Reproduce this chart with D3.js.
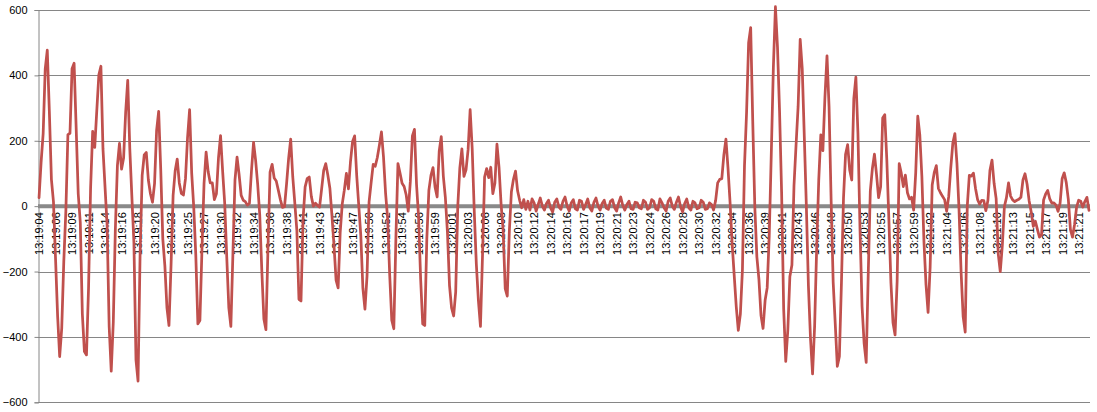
<!DOCTYPE html>
<html>
<head>
<meta charset="utf-8">
<script src="https://cdn.jsdelivr.net/npm/d3@7"></script>
<style>
  html, body { margin: 0; padding: 0; background: #ffffff; }
  svg { display: block; }
  text { font-family: "Liberation Sans", Arial, sans-serif; font-size: 11px; fill: #000; }
</style>
</head>
<body>
<svg id="chart" width="1097" height="412"></svg>
<script>
// ---- data ----
const timeLabels = [
  "13:19:04","13:19:06","13:19:09","13:19:11","13:19:14","13:19:16","13:19:18","13:19:20","13:19:23","13:19:25",
  "13:19:27","13:19:30","13:19:32","13:19:34","13:19:36","13:19:38","13:19:41","13:19:43","13:19:45","13:19:47",
  "13:19:50","13:19:52","13:19:54","13:19:56","13:19:59","13:20:01","13:20:03","13:20:06","13:20:08","13:20:10",
  "13:20:12","13:20:14","13:20:16","13:20:17","13:20:19","13:20:21","13:20:23","13:20:24","13:20:26","13:20:28",
  "13:20:30","13:20:32","13:20:34","13:20:36","13:20:39","13:20:41","13:20:43","13:20:46","13:20:48","13:20:50",
  "13:20:53","13:20:55","13:20:57","13:20:59","13:21:02","13:21:04","13:21:06","13:21:08","13:21:10","13:21:13",
  "13:21:15","13:21:17","13:21:19","13:21:21"
];
const samplesPerLabel = 8;
const yTicks = [-600, -400, -200, 0, 200, 400, 600];

// first oscillating phase (13:19:04 - 13:20:10)
const valuesA = [
  26, 134, 222, 420, 477, 290, 82, 13,
  -160, -335, -460, -374, -170, -16, 219, 223,
  420, 437, 240, 38, -50, -330, -445, -455,
  -251, 56, 229, 180, 292, 402, 428, 175,
  58, -58, -368, -505, -355, -70, 125, 192,
  113, 147, 288, 385, 176, 30, -112, -470,
  -535, -144, 94, 157, 164, 80, 38, 12,
  69, 232, 290, 113, -100, -182, -310, -365,
  -180, 33, 108, 144, 71, 39, 34, 84,
  210, 295, 102, -3, -150, -360, -350, -130,
  70, 165, 105, 71, 71, 20, 38, 148,
  216, 108, 10, -155, -310, -368, -144, 80,
  150, 96, 33, 18, 14, 3, 8, 109,
  195, 140, 67, -27, -197, -345, -378, -125,
  104, 128, 86, 77, 49, 20, -4, -2,
  68, 146, 205, 90, 9, -75, -285, -290,
  -40, 59, 84, 89, 30, 0, 9, 2,
  -3, 53, 109, 130, 95, 55, -29, -120,
  -226, -250, -80, 7, 49, 100, 53, 137,
  198, 215, 94, 2, -91, -251, -315, -215,
  13, 72, 128, 122, 149, 186, 227, 150,
  40, -38, -210, -349, -375, -100, 130, 101,
  70, 60, 34, -15, 75, 215, 235, 67,
  -33, -223, -360, -365, -100, 49, 94, 118,
  58, 28, 168, 213, 92, 25, -80, -243,
  -311, -336, -262, 0, 117, 175, 91, 111,
  172, 295, 175, -17, -177, -288, -368, -150,
  89, 115, 87, 119, 38, 70, 190, 119,
  6, -75, -252, -275, -77, 44, 82, 107,
  47, 18, -5, 20, -10, 15, -12, 22
];
// quiet phase (13:20:12 - 13:20:30)
const valuesB = [
  10, -15, 5, 25, 0, -12, 8, 18,
  -5, -18, 12, 22, -2, -10, 15, 28,
  0, -15, 10, 20, -8, -12, 18, 15,
  -10, 5, 22, -5, -15, 12, 25, 0,
  -12, 8, 18, -6, -10, 15, 20, -4,
  -15, 10, 28, 2, -12, 5, 15, -8,
  -10, 12, 10, -5, -8, 18, 12, -10,
  -5, 20, 15, -8, -12, 22, 10, -5,
  -15, 15, 25, 0, -10, 12, 28, -2,
  -18, 8, 22, -5, -12, 15, 10, -8,
  -5, 18, 12, -10, -8, 10, 5, -12
];
// second oscillating phase (13:20:32 - end)
const valuesC = [
  17, 71, 82, 84, 157, 205, 117, 12,
  -113, -210, -307, -380, -330, -195, 124, 285,
  500, 546, 260, -2, -155, -224, -334, -374,
  -288, -250, -90, 163, 425, 610, 486, 290,
  40, -315, -475, -380, -215, -180, 63, 187,
  305, 510, 420, 212, -2, -245, -405, -513,
  -367, -125, 80, 218, 170, 334, 460, 303,
  18, -233, -360, -490, -460, -235, 25, 159,
  188, 111, 80, 329, 395, 222, -70, -307,
  -420, -478, -205, 47, 115, 159, 97, 26,
  59, 270, 280, 141, -42, -235, -357, -394,
  -230, 130, 101, 60, 95, 41, 22, 27,
  -12, 101, 275, 217, 90, -108, -240, -325,
  -187, 65, 103, 124, 54, 41, 30, 20,
  -16, 29, 117, 193, 222, 130, -10, -200,
  -338, -385, 0, 94, 92, 101, 54, 20,
  6, 18, 17, -14, 17, 110, 141, 70,
  23, -145, -200, -120, -1, 26, 71, 31,
  19, 14, 18, 21, 27, 80, 99, 67,
  16, -18, -62, -46, -71, -95, -87, 19,
  37, 48, 22, 9, 10, 3, -16, 9,
  84, 102, 72, 20, -71, -95, -57, -3,
  18, 15, -3, 14, 27, -13
];
const values = valuesA.concat(valuesB, valuesC);

// ---- chart ----
(function () {
const svg = d3.select("#chart");
const plotLeft = 38, plotRight = 1090, plotTop = 10, plotBottom = 402.3;

const x = d3.scalePoint()
  .domain(d3.range(values.length))
  .range([plotLeft, plotRight])
  .padding(0.5);

const y = d3.scaleLinear().domain([-600, 600]).range([plotBottom, plotTop]);

// gridlines
svg.append("g").selectAll("line")
  .data(yTicks.filter(d => d !== 0))
  .join("line")
  .attr("x1", plotLeft).attr("x2", plotRight)
  .attr("y1", d => Math.round(y(d)) + 0.5).attr("y2", d => Math.round(y(d)) + 0.5)
  .attr("stroke", "#868686").attr("stroke-width", 1);

// y axis
const yAxis = d3.axisLeft(y).tickValues(yTicks).tickSize(4).tickPadding(7);
const gy = svg.append("g").attr("transform", `translate(${plotLeft + 0.5},0)`).call(yAxis);
gy.select(".domain").attr("stroke", "#868686");
gy.selectAll(".tick line").attr("stroke", "#868686");
gy.selectAll(".tick text").style("font-family", "Liberation Sans, Arial, sans-serif").style("font-size", "11px").attr("fill", "#000");

// x axis (at zero)
const tickIdx = d3.range(0, values.length, samplesPerLabel).slice(0, timeLabels.length);
const xAxis = d3.axisBottom(x)
  .tickValues(tickIdx)
  .tickFormat(i => timeLabels[i / samplesPerLabel])
  .tickSize(0);
const gx = svg.append("g").attr("transform", `translate(0,${y(0)})`).call(xAxis);
gx.select(".domain").remove();
gx.selectAll(".tick text")
  .style("font-family", "Liberation Sans, Arial, sans-serif").style("font-size", "11px")
  .attr("fill", "#000")
  .attr("transform", "rotate(-90)")
  .attr("text-anchor", "end")
  .attr("x", -6)
  .attr("y", 0)
  .attr("dy", "0.35em");

// thick zero line
svg.append("line")
  .attr("x1", plotLeft).attr("x2", plotRight)
  .attr("y1", y(0)).attr("y2", y(0))
  .attr("stroke", "#898989").attr("stroke-width", 4);

// series line
const line = d3.line()
  .x((d, i) => x(i))
  .y(d => y(d));

svg.append("path")
  .datum(values)
  .attr("fill", "none")
  .attr("stroke", "#C0504D")
  .attr("stroke-width", 2.75)
  .attr("stroke-linejoin", "round")
  .attr("stroke-linecap", "round")
  .attr("d", line);
})();
</script>
</body>
</html>
